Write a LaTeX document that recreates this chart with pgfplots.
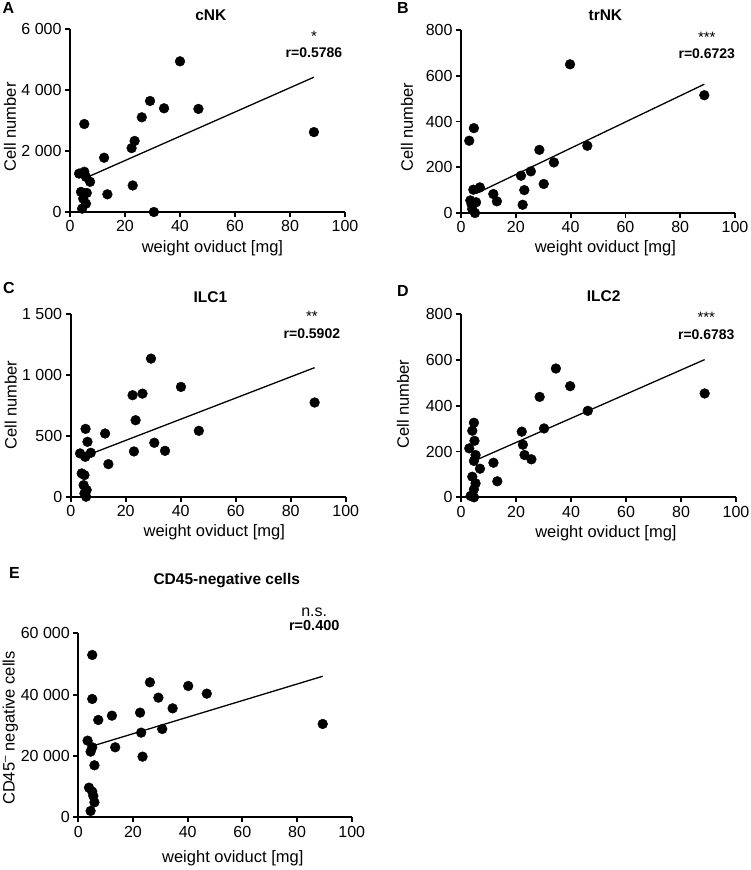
\documentclass[border=0pt]{standalone}
\usepackage{fontspec}
\setmainfont{Liberation Sans}
\usepackage{pgfplots}
\pgfplotsset{compat=1.18}
\pgfplotsset{
  panel/.style={
    scale only axis, width=275pt, height=183pt,
    axis lines=left, axis line style={-, line width=1.8pt},
    xmin=0, xmax=100, ymin=0, clip=false,
    xtick={0,20,...,100},
    tick align=outside, major tick length=5pt,
    tick style={line width=1.8pt, black},
    tick label style={font=\fontsize{16}{18}\selectfont},
    label style={font=\fontsize{16.5}{18}\selectfont},
    title style={font=\bfseries\fontsize{15.5}{18}\selectfont, anchor=center},
    /pgf/number format/assume math mode=true,
    /pgf/number format/1000 sep={\ },
    scaled y ticks=false,
    xlabel={weight oviduct [mg]},
    ylabel={Cell number},
  },
  pts/.style={only marks, mark=*, mark size=4.9pt, black},
  fit/.style={black, line width=1.3pt, no marks},
}
\begin{document}
\begin{tikzpicture}
\path[use as bounding box] (0pt,0pt) rectangle (750pt,-870pt);
\tikzset{letter/.style={font=\bfseries\fontsize{16}{18}\selectfont}}
\node[letter] at (8.5pt,-7.5pt) {A};
\node[letter] at (403pt,-7.5pt) {B};
\node[letter] at (9pt,-288pt) {C};
\node[letter] at (403pt,-291pt) {D};
\node[letter] at (14.5pt,-573pt) {E};

% ---------------- A: cNK
\begin{axis}[panel, at={(70pt,-212pt)}, anchor=south west,
  ymax=6000, ytick={0,2000,4000,6000},
  title={cNK}, title style={at={(axis description cs:0.512,1)}, yshift=8pt},
  xlabel style={at={(axis description cs:0.518,0)}, anchor=center, yshift=-36pt},
  ylabel style={at={(axis description cs:0,0.465)}, anchor=center, yshift=60pt},
]
\addplot[pts] coordinates {
(40,4940) (29.1,3640) (34.2,3400) (46.7,3380) (26.1,3105) (5.2,2885)
(23.5,2330) (22.4,2095) (12.4,1780) (88.7,2620) (3.3,1260) (5.2,1320)
(5.8,1150) (7.3,990) (22.8,870) (13.6,580) (4.0,660) (6.1,625)
(4.8,440) (5.8,275) (4.4,110) (30.5,0)
};
\addplot[fit] coordinates {(5.5,1110) (88.7,4420)};
\node[font=\fontsize{15}{16}\selectfont] at (rel axis cs:0.887,0.96) {*};
\node[font=\bfseries\fontsize{14}{16}\selectfont] at (rel axis cs:0.887,0.87) {r=0.5786};
\end{axis}

% ---------------- B: trNK
\begin{axis}[panel, at={(461pt,-213pt)}, anchor=south west,
  width=274pt,
  ymax=800, ytick={0,200,400,600,800},
  title={trNK}, title style={at={(axis description cs:0.527,1)}, yshift=9pt},
  xlabel style={at={(axis description cs:0.527,0)}, anchor=center, yshift=-35pt},
  ylabel style={at={(axis description cs:0,0.47)}, anchor=center, yshift=54pt},
]
\addplot[pts] coordinates {
(39.8,650) (88.8,515) (46.1,294) (28.6,276) (33.9,221) (25.5,182)
(21.9,163) (3.0,316) (4.7,371) (30.2,127) (23.1,100) (22.5,36)
(11.8,83) (13.1,51) (6.9,112) (4.5,102) (3.4,55) (5.5,47)
(4.1,17) (5.1,0) (3.9,36)
};
\addplot[fit] coordinates {(5.5,85) (88.8,563)};
\node[font=\fontsize{15}{16}\selectfont] at (rel axis cs:0.897,0.96) {***};
\node[font=\bfseries\fontsize{14}{16}\selectfont] at (rel axis cs:0.897,0.873) {r=0.6723};
\end{axis}

% ---------------- C: ILC1
\begin{axis}[panel, at={(70.7pt,-496.7pt)}, anchor=south west,
  ymax=1500, ytick={0,500,1000,1500},
  title={ILC1}, title style={at={(axis description cs:0.508,1)}, yshift=11pt},
  xlabel style={at={(axis description cs:0.522,0)}, anchor=center, yshift=-36pt},
  ylabel style={at={(axis description cs:0,0.5)}, anchor=center, yshift=60pt},
]
\addplot[pts] coordinates {
(29.2,1132) (40.1,900) (22.5,832) (26.1,845) (88.7,772) (23.6,627)
(46.6,540) (12.5,518) (30.4,442) (34.3,376) (23.0,371) (13.7,267)
(5.4,556) (6.1,450) (3.4,355) (7.3,360) (5.3,327) (4.0,191)
(5.0,177) (4.7,95) (5.8,55) (5.0,27) (5.6,0)
};
\addplot[fit] coordinates {(6,340) (88.7,1058)};
\node[font=\fontsize{15}{16}\selectfont] at (rel axis cs:0.877,0.985) {**};
\node[font=\bfseries\fontsize{14}{16}\selectfont] at (rel axis cs:0.877,0.893) {r=0.5902};
\end{axis}

% ---------------- D: ILC2
\begin{axis}[panel, at={(461pt,-497.3pt)}, anchor=south west,
  ymax=800, ytick={0,200,400,600,800},
  title={ILC2}, title style={at={(axis description cs:0.519,1)}, yshift=12pt},
  xlabel style={at={(axis description cs:0.527,0)}, anchor=center, yshift=-36pt},
  ylabel style={at={(axis description cs:0,0.51)}, anchor=center, yshift=58pt},
]
\addplot[pts] coordinates {
(34.5,563) (39.7,486) (28.6,439) (88.6,454) (46.1,378) (30.2,301)
(22.1,287) (22.5,230) (23.1,185) (25.6,166) (11.8,151) (13.2,70)
(4.7,326) (4.1,291) (4.9,247) (3.0,214) (5.3,185) (4.7,159)
(6.9,125) (4.1,90) (5.3,61) (4.7,35) (3.5,6) (4.7,0)
};
\addplot[fit] coordinates {(5.5,163) (88.6,602)};
\node[font=\fontsize{15}{16}\selectfont] at (rel axis cs:0.892,0.985) {***};
\node[font=\bfseries\fontsize{14}{16}\selectfont] at (rel axis cs:0.892,0.891) {r=0.6783};
\end{axis}

% ---------------- E: CD45-negative cells
\begin{axis}[panel, at={(78.3pt,-817.3pt)}, anchor=south west,
  width=273.4pt, height=184pt,
  ymax=60000, ytick={0,20000,40000,60000},
  title={CD45-negative cells}, title style={at={(axis description cs:0.543,1)}, yshift=47pt},
  xlabel style={at={(axis description cs:0.565,0)}, anchor=center, yshift=-40.7pt},
  ylabel={CD45\textsuperscript{–} negative cells},
  ylabel style={at={(axis description cs:0,0.485)}, anchor=center, yshift=68pt},
]
\addplot[pts] coordinates {
(5.1,52940) (5.1,38590) (7.3,31740) (12.3,33150) (22.6,34130) (26.2,44020)
(29.3,39020) (34.5,35540) (40.2,42830) (47.0,40330) (89.4,30440) (3.4,25000)
(5.1,22830) (4.5,21410) (13.5,22830) (23.0,27610) (30.7,28800) (23.5,19780)
(5.9,16960) (3.9,9670) (5.1,8370) (5.5,6960) (5.9,4890) (4.5,2070)
};
\addplot[fit] coordinates {(5,23200) (89.4,46000)};
\node[font=\fontsize{16}{18}\selectfont] at (rel axis cs:0.863,1.117) {n.s.};
\node[font=\bfseries\fontsize{14.5}{16}\selectfont] at (rel axis cs:0.863,1.045) {r=0.400};
\end{axis}
\end{tikzpicture}
\end{document}
